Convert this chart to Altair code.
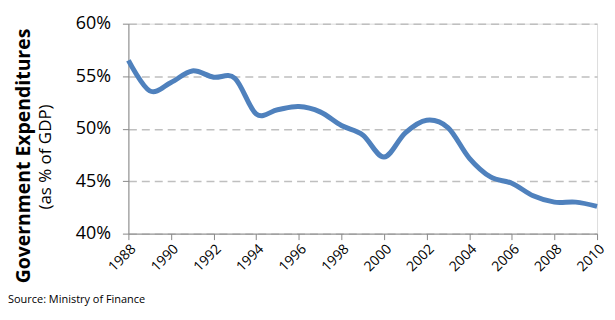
import altair as alt
import pandas as pd

years = list(range(1988, 2011))
values = [56.5, 53.6, 54.4, 55.5, 54.9, 54.8, 51.4, 51.8, 52.1, 51.6, 50.3, 49.4,
          47.3, 49.6, 50.8, 50.1, 47.2, 45.4, 44.8, 43.6, 43.0, 43.0, 42.6]
y_ticks = [40, 45, 50, 55, 60]
x_ticks = list(range(1988, 2011, 2))
title_main = "Government Expenditures"
title_sub = "(as % of GDP)"
source = "Source: Ministry of Finance"

df = pd.DataFrame({"year": years, "pct": values})
FONT = "Open Sans"

line = alt.Chart(df).mark_line(
    interpolate="cardinal", color="#4F81BD", strokeWidth=5
).encode(
    x=alt.X("year:Q", scale=alt.Scale(domain=[1988, 2010], nice=False),
            axis=alt.Axis(values=x_ticks, format="d", labelAngle=-45, labelAlign="right",
                          labelBaseline="top", labelPadding=2, tickSize=6, grid=False,
                          domainColor="#888888", tickColor="#888888", labelFontSize=14,
                          labelColor="#000000", labelFont=FONT, title=None,
                          labelOverlap=False, labelBound=False, labelFlush=False)),
    y=alt.Y("pct:Q", scale=alt.Scale(domain=[40, 60], nice=False, zero=False),
            axis=alt.Axis(values=y_ticks, labelExpr="datum.value + '%'", tickSize=6,
                          labelPadding=12, grid=True, gridDash=[8, 5], gridColor="#BFBFBF",
                          gridWidth=1.5, domainColor="#888888", tickColor="#888888",
                          labelFontSize=18, labelColor="#000000", labelFont=FONT,
                          title=None)),
)

t1 = alt.Chart(pd.DataFrame({"t": [title_main]})).mark_text(
    angle=270, fontSize=19.5, fontWeight="bold", font=FONT, color="#000000",
    align="center", baseline="middle"
).encode(text="t:N", x=alt.value(-105), y=alt.value(133))

t2 = alt.Chart(pd.DataFrame({"t": [title_sub]})).mark_text(
    angle=270, fontSize=17, font=FONT, color="#000000",
    align="center", baseline="middle"
).encode(text="t:N", x=alt.value(-83), y=alt.value(134))

t3 = alt.Chart(pd.DataFrame({"t": [source]})).mark_text(
    fontSize=11, font=FONT, color="#000000", align="left", baseline="middle"
).encode(text="t:N", x=alt.value(-121), y=alt.value(278))

chart = alt.layer(line, t1, t2, t3).properties(
    width=471, height=211,
    autosize=alt.AutoSizeParams(type="none"),
    padding={"left": 121, "top": 15, "right": 10, "bottom": 76},
).configure_view(stroke=None).configure(background="#ffffff")

chart.save("out.html", embed_options={"renderer": "svg", "actions": False})
